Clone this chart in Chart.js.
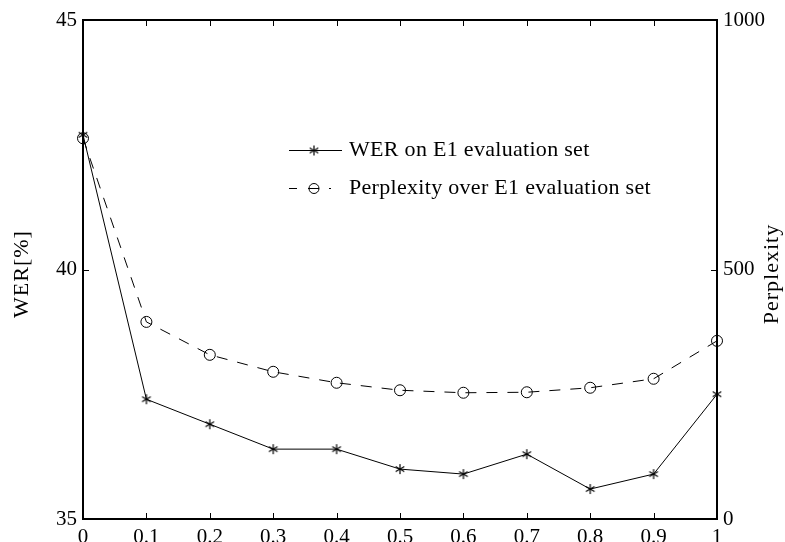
<!DOCTYPE html>
<html>
<head>
<meta charset="utf-8">
<script src="https://cdn.jsdelivr.net/npm/chart.js@4/dist/chart.umd.min.js"></script>
<style>
  body { margin: 0; background: #fff; }
  #wrap { width: 785px; height: 542px; }
</style>
</head>
<body>
<div id="wrap"><canvas id="werChart" width="785" height="542"></canvas></div>
<script>
// interpolation weight on the x axis
const weights = [0, 0.1, 0.2, 0.3, 0.4, 0.5, 0.6, 0.7, 0.8, 0.9, 1];
const werValues = [42.7, 37.4, 36.9, 36.4, 36.4, 36.0, 35.9, 36.3, 35.6, 35.9, 37.5];
const perplexityValues = [763, 395, 329, 295, 273, 258, 253, 254, 263, 281, 357];

const xTicks = [0, 0.1, 0.2, 0.3, 0.4, 0.5, 0.6, 0.7, 0.8, 0.9, 1];
const werTicks = [35, 40, 45];
const perplexityTicks = [0, 500, 1000];

const werLabel = "WER on E1 evaluation set";
const perplexityLabel = "Perplexity over E1 evaluation set";

const fontFamily = "'Liberation Serif', 'Times New Roman', serif";

// matlab style asterisk marker (6 spokes)
function makeAsterisk(r) {
  const c = document.createElement("canvas");
  const size = r * 2 + 2;
  c.width = size;
  c.height = size;
  const g = c.getContext("2d");
  g.strokeStyle = "#000";
  g.lineWidth = 1.2;
  const m = size / 2;
  [90, 30, 150].forEach((deg) => {
    const a = (deg * Math.PI) / 180;
    g.beginPath();
    g.moveTo(m - r * Math.cos(a), m - r * Math.sin(a));
    g.lineTo(m + r * Math.cos(a), m + r * Math.sin(a));
    g.stroke();
  });
  return c;
}
const asterisk = makeAsterisk(5);

const werPoints = weights.map((w, i) => ({ x: w, y: werValues[i] }));
const perplexityPoints = weights.map((w, i) => ({ x: w, y: perplexityValues[i] }));

const werDash = [11, 10];

// box around the plot plus inward tick marks
const axesBox = {
  id: "axesBox",
  beforeDatasetsDraw(chart) {
    const { ctx, chartArea, scales } = chart;
    const { left, right, top, bottom } = chartArea;
    ctx.save();
    ctx.strokeStyle = "#000";
    ctx.lineWidth = 1;
    const tl = 6;
    xTicks.forEach((v) => {
      const px = Math.round(scales.x.getPixelForValue(v)) + 0.5;
      ctx.beginPath();
      ctx.moveTo(px, bottom);
      ctx.lineTo(px, bottom - tl);
      ctx.moveTo(px, top);
      ctx.lineTo(px, top + tl);
      ctx.stroke();
    });
    werTicks.forEach((v) => {
      const py = Math.round(scales.y.getPixelForValue(v)) + 0.5;
      ctx.beginPath();
      ctx.moveTo(left, py);
      ctx.lineTo(left + tl, py);
      ctx.stroke();
    });
    perplexityTicks.forEach((v) => {
      const py = Math.round(scales.y2.getPixelForValue(v)) + 0.5;
      ctx.beginPath();
      ctx.moveTo(right, py);
      ctx.lineTo(right - tl, py);
      ctx.stroke();
    });
    ctx.lineWidth = 2;
    ctx.strokeRect(left, top, right - left, bottom - top);
    ctx.restore();
  },
  afterDraw(chart) {
    const { ctx } = chart;
    const midY = 274;
    ctx.save();
    ctx.fillStyle = "#000";
    ctx.font = "22px " + fontFamily;
    ctx.textAlign = "center";
    ctx.textBaseline = "middle";

    // axis titles, both reading bottom to top
    ctx.save();
    ctx.translate(22, midY);
    ctx.rotate(-Math.PI / 2);
    ctx.letterSpacing = "1px";
    ctx.fillText("WER[%]", 0, 0);
    ctx.restore();
    ctx.save();
    ctx.translate(772, midY);
    ctx.rotate(-Math.PI / 2);
    ctx.letterSpacing = "1px";
    ctx.fillText("Perplexity", 0, 0);
    ctx.restore();

    // legend
    const lx0 = 289, lx1 = 342, mx = 314, tx = 349;
    const row1 = 150, row2 = 188;
    ctx.strokeStyle = "#000";
    ctx.lineWidth = 1;
    ctx.beginPath();
    ctx.moveTo(lx0, row1 + 0.5);
    ctx.lineTo(lx1, row1 + 0.5);
    ctx.stroke();
    ctx.drawImage(asterisk, mx - asterisk.width / 2, row1 - asterisk.height / 2 + 0.5);

    ctx.setLineDash([8, 11, 11, 10]);
    ctx.beginPath();
    ctx.moveTo(lx0, row2 + 0.5);
    ctx.lineTo(331, row2 + 0.5);
    ctx.stroke();
    ctx.setLineDash([]);
    ctx.beginPath();
    ctx.arc(mx, row2 + 0.5, 5, 0, Math.PI * 2);
    ctx.stroke();

    ctx.textAlign = "left";
    ctx.letterSpacing = "0.3px";
    ctx.fillText(werLabel, tx, row1);
    ctx.fillText(perplexityLabel, tx, row2);
    ctx.restore();
  },
};

const ctx = document.getElementById("werChart").getContext("2d");

const werChart = new Chart(ctx, {
  type: "line",
  data: {
    datasets: [
      {
        label: werLabel,
        data: werPoints,
        yAxisID: "y",
        borderColor: "#000",
        borderWidth: 1,
        pointStyle: asterisk,
        pointRadius: 5,
        clip: false,
        tension: 0,
      },
      {
        label: perplexityLabel,
        data: perplexityPoints,
        yAxisID: "y2",
        borderColor: "#000",
        borderWidth: 1,
        borderDash: werDash,
        pointStyle: "circle",
        pointRadius: 5.5,
        pointBorderWidth: 1,
        pointBorderColor: "#000",
        pointBackgroundColor: "rgba(0,0,0,0)",
        clip: false,
        tension: 0,
      },
    ],
  },
  options: {
    responsive: false,
    animation: false,
    layout: { padding: { top: 20, left: 0, right: 0, bottom: 0 } },
    scales: {
      x: {
        type: "linear",
        min: 0,
        max: 1,
        afterBuildTicks: (scale) => {
          scale.ticks = xTicks.map((v) => ({ value: v }));
        },
        afterFit: (scale) => {
          scale.height = 23;
        },
        grid: { display: false, drawTicks: false },
        border: { display: false },
        ticks: {
          padding: 6,
          color: "#000",
          maxRotation: 0,
          autoSkip: false,
          font: { family: fontFamily, size: 21 },
          callback: (v) => String(v),
        },
      },
      y: {
        position: "left",
        min: 35,
        max: 45,
        afterBuildTicks: (scale) => {
          scale.ticks = werTicks.map((v) => ({ value: v }));
        },
        afterFit: (scale) => {
          scale.width = 83;
        },
        grid: { display: false, drawTicks: false },
        border: { display: false },
        ticks: {
          padding: 6,
          color: "#000",
          font: { family: fontFamily, size: 21 },
          callback: (v) => String(v),
        },
      },
      y2: {
        position: "right",
        min: 0,
        max: 1000,
        afterBuildTicks: (scale) => {
          scale.ticks = perplexityTicks.map((v) => ({ value: v }));
        },
        afterFit: (scale) => {
          scale.width = 68;
        },
        grid: { display: false, drawTicks: false },
        border: { display: false },
        ticks: {
          padding: 6,
          color: "#000",
          font: { family: fontFamily, size: 21 },
          callback: (v) => String(v),
        },
      },
    },
    plugins: {
      legend: { display: false },
      tooltip: { enabled: false },
    },
  },
  plugins: [axesBox],
});
</script>
</body>
</html>
